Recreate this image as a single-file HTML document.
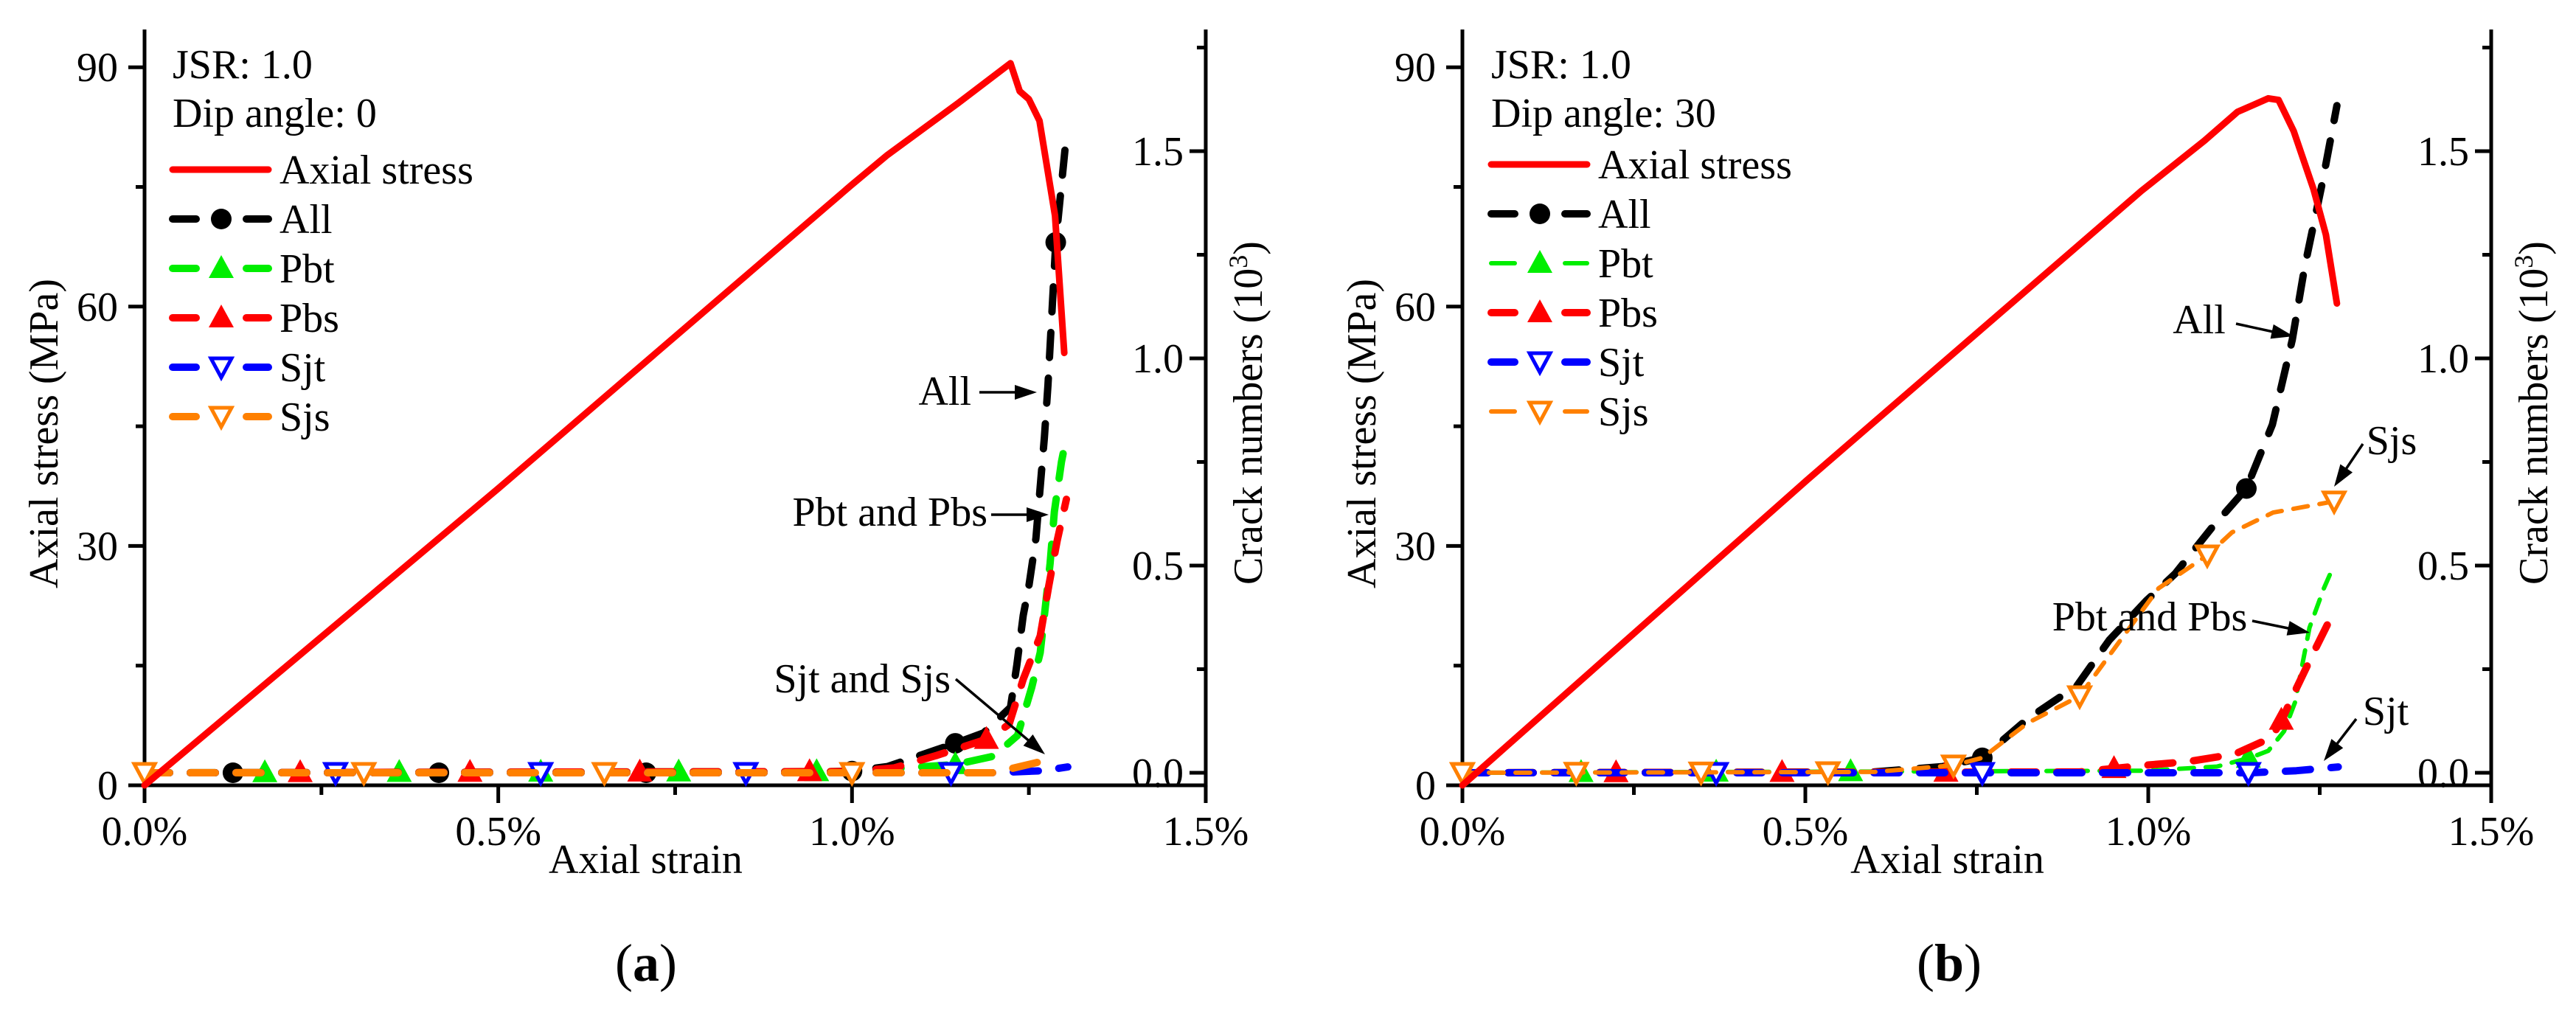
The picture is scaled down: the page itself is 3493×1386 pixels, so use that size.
<!DOCTYPE html>
<html><head><meta charset="utf-8"><style>
html,body{margin:0;padding:0;background:#fff;}
svg{display:block;}
svg text{font-family:"Liberation Serif","DejaVu Serif","Times New Roman",serif;}
</style></head><body>
<svg id="chart" xmlns="http://www.w3.org/2000/svg" width="3493" height="1386" viewBox="0 0 3493 1386"></svg>
<script>
// ---------- Panel (a) data ----------
const aStressStrain = [0, 0.5, 1.0, 1.05, 1.15, 1.224, 1.237, 1.25, 1.265, 1.287, 1.30];
const aStressVal    = [0, 37.2, 75.3, 79, 85.5, 90.5, 87, 86, 83.3, 71.4, 54.2];
const aAllStrain = [0, 0.9, 1.0, 1.05, 1.146, 1.186, 1.224, 1.233, 1.242, 1.25, 1.26, 1.266, 1.272, 1.277, 1.288, 1.302];
const aAllVal    = [0, 0, 0.004, 0.015, 0.071, 0.096, 0.158, 0.26, 0.38, 0.45, 0.566, 0.69, 0.81, 0.935, 1.28, 1.52];
const aPbtStrain = [0, 1.0, 1.146, 1.2, 1.234, 1.254, 1.266, 1.272, 1.28, 1.286, 1.296, 1.303];
const aPbtVal    = [0, 0.003, 0.02, 0.04, 0.09, 0.206, 0.29, 0.38, 0.505, 0.63, 0.75, 0.81];
const aPbsStrain = [0, 1.0, 1.06, 1.12, 1.194, 1.222, 1.242, 1.266, 1.278, 1.29, 1.303];
const aPbsVal    = [0, 0.003, 0.012, 0.042, 0.083, 0.117, 0.226, 0.33, 0.45, 0.56, 0.66];
const aSjtStrain = [0, 1.2, 1.27, 1.305];
const aSjtVal    = [0, 0.0, 0.005, 0.014];
const aSjsStrain = [0, 1.2, 1.262, 1.286];
const aSjsVal    = [0, 0.0, 0.025, 0.046];
const aAllMarks = [0.125, 0.416, 0.709, 1.0, 1.146, 1.288];
const aPbtMarks = [0.17, 0.36, 0.56, 0.755, 0.95, 1.146];
const aPbsMarks = [0.22, 0.46, 0.70, 0.94, 1.19];
const aSjtMarks = [0.27, 0.56, 0.85, 1.14];
const aSjsMarks = [0.0, 0.31, 0.65, 1.0];
// ---------- Panel (b) data ----------
const bStressStrain = [0, 0.503, 0.99, 1.082, 1.13, 1.175, 1.19, 1.212, 1.241, 1.259, 1.275];
const bStressVal    = [0, 38.3, 74.5, 80.8, 84.4, 86.1, 85.9, 82, 74.7, 69, 60.4];
const bAllStrain = [0, 0.6, 0.7, 0.758, 0.824, 0.896, 0.943, 0.997, 1.039, 1.092, 1.143, 1.181, 1.21, 1.228, 1.254, 1.275];
const bAllVal    = [0, 0.002, 0.015, 0.036, 0.13, 0.21, 0.32, 0.415, 0.48, 0.59, 0.686, 0.84, 1.045, 1.22, 1.425, 1.61];
const bPbtStrain = [0, 1.0, 1.1, 1.15, 1.175, 1.198, 1.214, 1.235, 1.256, 1.268];
const bPbtVal    = [0, 0.005, 0.015, 0.037, 0.053, 0.1, 0.17, 0.35, 0.445, 0.49];
const bPbsStrain = [0, 0.9, 0.995, 1.058, 1.126, 1.18, 1.198, 1.212, 1.241, 1.268];
const bPbsVal    = [0, 0.002, 0.018, 0.027, 0.045, 0.085, 0.139, 0.19, 0.29, 0.38];
const bSjtStrain = [0, 1.15, 1.216, 1.277];
const bSjtVal    = [0, 0.0, 0.005, 0.014];
const bSjsStrain = [0, 0.6, 0.716, 0.758, 0.824, 0.90, 0.955, 1.015, 1.086, 1.122, 1.182, 1.271];
const bSjsVal    = [0, 0.002, 0.018, 0.036, 0.12, 0.185, 0.31, 0.445, 0.525, 0.58, 0.628, 0.655];
const bAllMarks = [0.758, 1.143];
const bPbtMarks = [0.173, 0.37, 0.566, 1.146];
const bPbsMarks = [0.224, 0.466, 0.705, 0.95, 1.194];
const bSjtMarks = [0.37, 0.758, 1.146];
const bSjsMarks = [0.0, 0.166, 0.348, 0.533, 0.716, 0.90, 1.086, 1.271];
// ---------- ticks ----------
const xTickVals = [0, 0.5, 1.0, 1.5];
const xTickLabels = ["0.0%", "0.5%", "1.0%", "1.5%"];
const yTickVals = [0, 30, 60, 90];
const y2TickVals = [0, 0.5, 1.0, 1.5];
const y2TickLabels = ["0.0", "0.5", "1.0", "1.5"];

const NS = "http://www.w3.org/2000/svg";
const svg = document.getElementById('chart');
const FONT = "'Liberation Serif', 'DejaVu Serif', serif";
function mk(tag, attrs, parent, text){
  const e = document.createElementNS(NS, tag);
  for (const k in attrs) e.setAttribute(k, attrs[k]);
  if (tag === 'text') e.style.fontFamily = FONT;
  if (text !== undefined) e.textContent = text;
  (parent || svg).appendChild(e);
  return e;
}
function interp(xs, ys, x){
  if (x <= xs[0]) return ys[0];
  for (let i=1;i<xs.length;i++){ if (x <= xs[i]){ const t=(x-xs[i-1])/(xs[i]-xs[i-1]); return ys[i-1]+t*(ys[i]-ys[i-1]); } }
  return ys[ys.length-1];
}
const COL = {all:"#000", pbt:"#00ee00", pbs:"#ff0000", sjt:"#0000ff", sjs:"#ff8000", stress:"#ff0000"};

function marker(g, type, color, cx, cy){
  let m;
  if (type==='circle') m = mk('circle', {cx:cx, cy:cy, r:14, fill:color}, g);
  else if (type==='up') m = mk('polygon', {points:`${cx-17},${cy+13} ${cx+17},${cy+13} ${cx},${cy-18}`, fill:color}, g);
  else m = mk('polygon', {points:`${cx-14},${cy-12} ${cx+14},${cy-12} ${cx},${cy+14}`, fill:"#fff", stroke:color, 'stroke-width':5}, g);
  
  
}

function panel(P){
  const g = mk('g', {});
  
  
  const X = v => P.x0 + v*P.xs;
  const Y = v => 1065 - v*10.82;
  const Y2 = v => 1048 - v*562;
  const ax = mk('path', {d:`M${P.x0},40 V1065 H${X(1.5)} V40`, fill:'none', stroke:'#000','stroke-width':5}, g);
   
  for (let v=0; v<=1.5001; v+=0.25){
    const major = Math.abs(v*2-Math.round(v*2))<1e-6;
    mk('line',{x1:X(v),x2:X(v),y1:1065,y2:1065+(major?24:13),stroke:'#000','stroke-width':5},g);
  }
  xTickVals.forEach((v,i)=>{
    const t = mk('text',{x:X(v),y:1146,'font-size':56,'text-anchor':'middle'},g,xTickLabels[i]);
     
  });
  for (let v=0; v<=90; v+=15){
    const major = v%30===0;
    mk('line',{x1:P.x0-(major?22:12),x2:P.x0,y1:Y(v),y2:Y(v),stroke:'#000','stroke-width':5},g);
  }
  yTickVals.forEach(v=>{
    const t = mk('text',{x:P.x0-36,y:Y(v)+19,'font-size':56,'text-anchor':'end'},g,String(v));
     
  });
  const xr = X(1.5);
  for (let v=0; v<=1.75; v+=0.25){
    const major = Math.abs(v*2-Math.round(v*2))<1e-6;
    mk('line',{x1:xr-(major?22:12),x2:xr,y1:Y2(v),y2:Y2(v),stroke:'#000','stroke-width':5},g);
  }
  y2TickVals.forEach((v,i)=>{
    const t = mk('text',{x:xr-30,y:Y2(v)+19,'font-size':56,'text-anchor':'end'},g,y2TickLabels[i]);
     
  });
  let t = mk('text',{x:(P.x0+xr)/2-40,y:1184,'font-size':56,'text-anchor':'middle'},g,'Axial strain');
   
  t = mk('text',{x:0,y:0,'font-size':56,'text-anchor':'middle',transform:`translate(${P.x0-118},588) rotate(-90)`},g,'Axial stress (MPa)');
   
  t = mk('text',{x:0,y:0,'font-size':56,'text-anchor':'middle',transform:`translate(${xr+76},560) rotate(-90)`},g);
   
  t.textContent = 'Crack numbers (10';
  mk('tspan',{dy:-20,'font-size':36},t,'3');
  mk('tspan',{dy:20},t,')');
  const line = (xs, ys, yf, color, dash, w, nm) => {
    const d = xs.map((x,i)=>(i?'L':'M')+X(x).toFixed(1)+','+yf(ys[i]).toFixed(1)).join(' ');
    const p = mk('path',{d:d,fill:'none',stroke:color,'stroke-width':w,'stroke-dasharray':dash||'none','stroke-linecap':'round','stroke-linejoin':'round'},g);
     
  };
  P.series.forEach(s=>{
    line(s.xs, s.ys, Y2, s.color, s.thin?'20 16':'34 28', s.thin?6:10, s.nm);
    s.marks.forEach(m=>marker(g, s.mtype, s.color, X(m), Y2(interp(s.xs, s.ys, m))));
  });
  line(P.stressX, P.stressY, Y, COL.stress, null, 9, 'axial-stress-line');
  const L = P.leg;
  t = mk('text',{x:L.x,y:106,'font-size':56},g,'JSR: 1.0');
   
  t = mk('text',{x:L.x,y:172,'font-size':56},g,P.dip);
   
  const entries = [{nm:'Axial stress',c:COL.stress,m:null,thin:false,solid:true}].concat(P.series.map(s=>({nm:s.label,c:s.color,m:s.mtype,thin:s.thin})));
  entries.forEach((e,i)=>{
    const cy = L.y0 + i*67;
    const eg = mk('g',{},g);
     
    if (e.solid) mk('line',{x1:L.x,x2:L.x+130,y1:cy,y2:cy,stroke:e.c,'stroke-width':9,'stroke-linecap':'round'},eg);
    else {
      const w = e.thin?6:10;
      mk('line',{x1:L.x,x2:L.x+32,y1:cy,y2:cy,stroke:e.c,'stroke-width':w,'stroke-linecap':'round'},eg);
      mk('line',{x1:L.x+100,x2:L.x+130,y1:cy,y2:cy,stroke:e.c,'stroke-width':w,'stroke-linecap':'round'},eg);
      marker(eg, e.m, e.c, L.x+66, cy);
    }
    mk('text',{x:L.x+145,y:cy+19,'font-size':56},eg,e.nm);
  });
  P.ann.forEach(a=>{
    const ag = mk('g',{},g);
     
    mk('text',{x:a.tx,y:a.ty,'font-size':56,'text-anchor':a.anchor},ag,a.text);
    const ang = Math.atan2(a.y2-a.y1, a.x2-a.x1), L2=30, W=10;
    mk('line',{x1:a.x1,y1:a.y1,x2:a.x2-Math.cos(ang)*20,y2:a.y2-Math.sin(ang)*20,stroke:'#000','stroke-width':3.5},ag);
    const bx=a.x2-Math.cos(ang)*L2, by=a.y2-Math.sin(ang)*L2;
    mk('polygon',{points:`${a.x2},${a.y2} ${bx-Math.sin(ang)*W},${by+Math.cos(ang)*W} ${bx+Math.sin(ang)*W},${by-Math.cos(ang)*W}`,fill:'#000'},ag);
  });
  t = mk('text',{x:P.capX,y:1330,'font-size':72,'text-anchor':'middle'},g);
   
  mk('tspan',{},t,'(');
  mk('tspan',{'font-weight':'bold'},t,P.cap);
  mk('tspan',{},t,')');
}

panel({
  name:'panel-a', x0:196, xs:959.3, dip:'Dip angle: 0', cap:'a', capX:876,
  stressX:aStressStrain, stressY:aStressVal,
  leg:{x:234, y0:230},
  series:[
    {label:'All', nm:'all-line', xs:aAllStrain, ys:aAllVal, color:COL.all, mtype:'circle', marks:aAllMarks},
    {label:'Pbt', nm:'pbt-line', xs:aPbtStrain, ys:aPbtVal, color:COL.pbt, mtype:'up', marks:aPbtMarks},
    {label:'Pbs', nm:'pbs-line', xs:aPbsStrain, ys:aPbsVal, color:COL.pbs, mtype:'up', marks:aPbsMarks},
    {label:'Sjt', nm:'sjt-line', xs:aSjtStrain, ys:aSjtVal, color:COL.sjt, mtype:'down', marks:aSjtMarks},
    {label:'Sjs', nm:'sjs-line', xs:aSjsStrain, ys:aSjsVal, color:COL.sjs, mtype:'down', marks:aSjsMarks}
  ],
  ann:[
    {text:'All', tx:1317, ty:549, anchor:'end', x1:1328,y1:532,x2:1406,y2:532},
    {text:'Pbt and Pbs', tx:1339, ty:713, anchor:'end', x1:1344,y1:698,x2:1422,y2:698},
    {text:'Sjt and Sjs', tx:1289, ty:939, anchor:'end', x1:1296,y1:921,x2:1417,y2:1023}
  ]
});
panel({
  name:'panel-b', x0:1983, xs:930, dip:'Dip angle: 30', cap:'b', capX:2643,
  stressX:bStressStrain, stressY:bStressVal,
  leg:{x:2022, y0:223},
  series:[
    {label:'All', nm:'all-line', xs:bAllStrain, ys:bAllVal, color:COL.all, mtype:'circle', marks:bAllMarks},
    {label:'Pbt', nm:'pbt-line', xs:bPbtStrain, ys:bPbtVal, color:COL.pbt, mtype:'up', marks:bPbtMarks, thin:true},
    {label:'Pbs', nm:'pbs-line', xs:bPbsStrain, ys:bPbsVal, color:COL.pbs, mtype:'up', marks:bPbsMarks},
    {label:'Sjt', nm:'sjt-line', xs:bSjtStrain, ys:bSjtVal, color:COL.sjt, mtype:'down', marks:bSjtMarks},
    {label:'Sjs', nm:'sjs-line', xs:bSjsStrain, ys:bSjsVal, color:COL.sjs, mtype:'down', marks:bSjsMarks, thin:true}
  ],
  ann:[
    {text:'All', tx:2982, ty:452, anchor:'middle', x1:3032,y1:439,x2:3110,y2:456},
    {text:'Sjs', tx:3243, ty:616, anchor:'middle', x1:3204,y1:602,x2:3165,y2:660},
    {text:'Pbt and Pbs', tx:2915, ty:855, anchor:'middle', x1:3054,y1:842,x2:3132,y2:858},
    {text:'Sjt', tx:3235, ty:983, anchor:'middle', x1:3195,y1:975,x2:3151,y2:1032}
  ]
});
</script>
</body></html>
